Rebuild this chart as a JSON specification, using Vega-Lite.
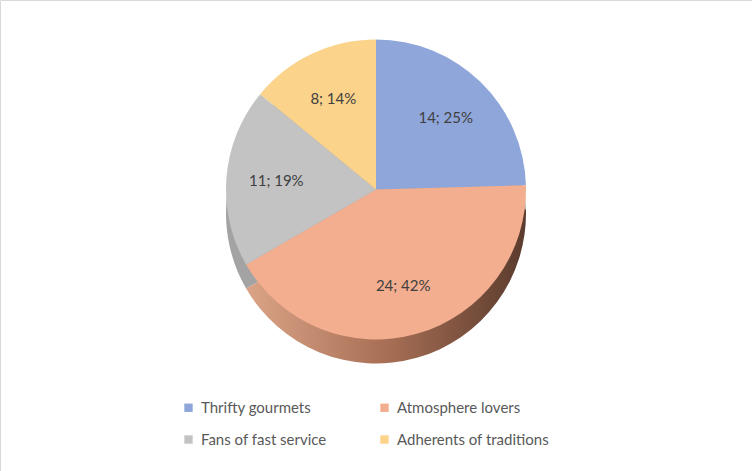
{
  "$schema": "https://vega.github.io/schema/vega-lite/v6.json",
  "width": 752,
  "height": 471,
  "autosize": {"type": "fit", "contains": "padding"},
  "padding": 0,
  "background": "white",
  "view": {"stroke": "#d9d9d9", "strokeWidth": 1, "fill": "white"},
  "config": {"font": "Lato"},
  "data": {
    "values": [
      {"segment": "Thrifty gourmets", "count": 14, "label": "14; 25%", "order": 1},
      {"segment": "Atmosphere lovers", "count": 24, "label": "24; 42%", "order": 2},
      {"segment": "Fans of fast service", "count": 11, "label": "11; 19%", "order": 3},
      {"segment": "Adherents of traditions", "count": 8, "label": "8; 14%", "order": 4}
    ]
  },
  "encoding": {
    "theta": {"field": "count", "type": "quantitative", "stack": true},
    "order": {"field": "order", "type": "quantitative"}
  },
  "layer": [
    {
      "mark": {"type": "arc", "outerRadius": 150, "y": {"expr": "height/2 - 22"}},
      "encoding": {
        "fill": {
          "condition": {
            "test": "datum.segment === 'Atmosphere lovers'",
            "value": {
              "gradient": "linear", "x1": 0, "y1": 0, "x2": 1, "y2": 0,
              "stops": [
                {"offset": 0, "color": "#dba487"},
                {"offset": 0.5, "color": "#a86f55"},
                {"offset": 1, "color": "#5a3b2d"}
              ]
            }
          },
          "value": "#a3a3a3"
        }
      }
    },
    {
      "mark": {"type": "arc", "outerRadius": 150, "y": {"expr": "height/2 - 46"}},
      "encoding": {
        "color": {
          "field": "segment",
          "type": "nominal",
          "sort": null,
          "scale": {
            "domain": ["Thrifty gourmets", "Atmosphere lovers", "Fans of fast service", "Adherents of traditions"],
            "range": ["#8fa6da", "#f3ae8f", "#c3c3c3", "#fbd38a"]
          },
          "legend": {
            "orient": "none",
            "legendX": 181,
            "legendY": 400,
            "direction": "horizontal",
            "title": null,
            "columns": 2,
            "columnPadding": 50,
            "rowPadding": 16,
            "symbolType": "square",
            "symbolSize": 70,
            "symbolStrokeWidth": 0,
            "labelFontSize": 15,
            "labelColor": "#595959",
            "labelOffset": 5
          }
        }
      }
    },
    {
      "mark": {"type": "text", "radius": 100, "y": {"expr": "height/2 - 46"}, "fontSize": 15, "fill": "#404040"},
      "encoding": {"text": {"field": "label", "type": "nominal"}}
    }
  ]
}
